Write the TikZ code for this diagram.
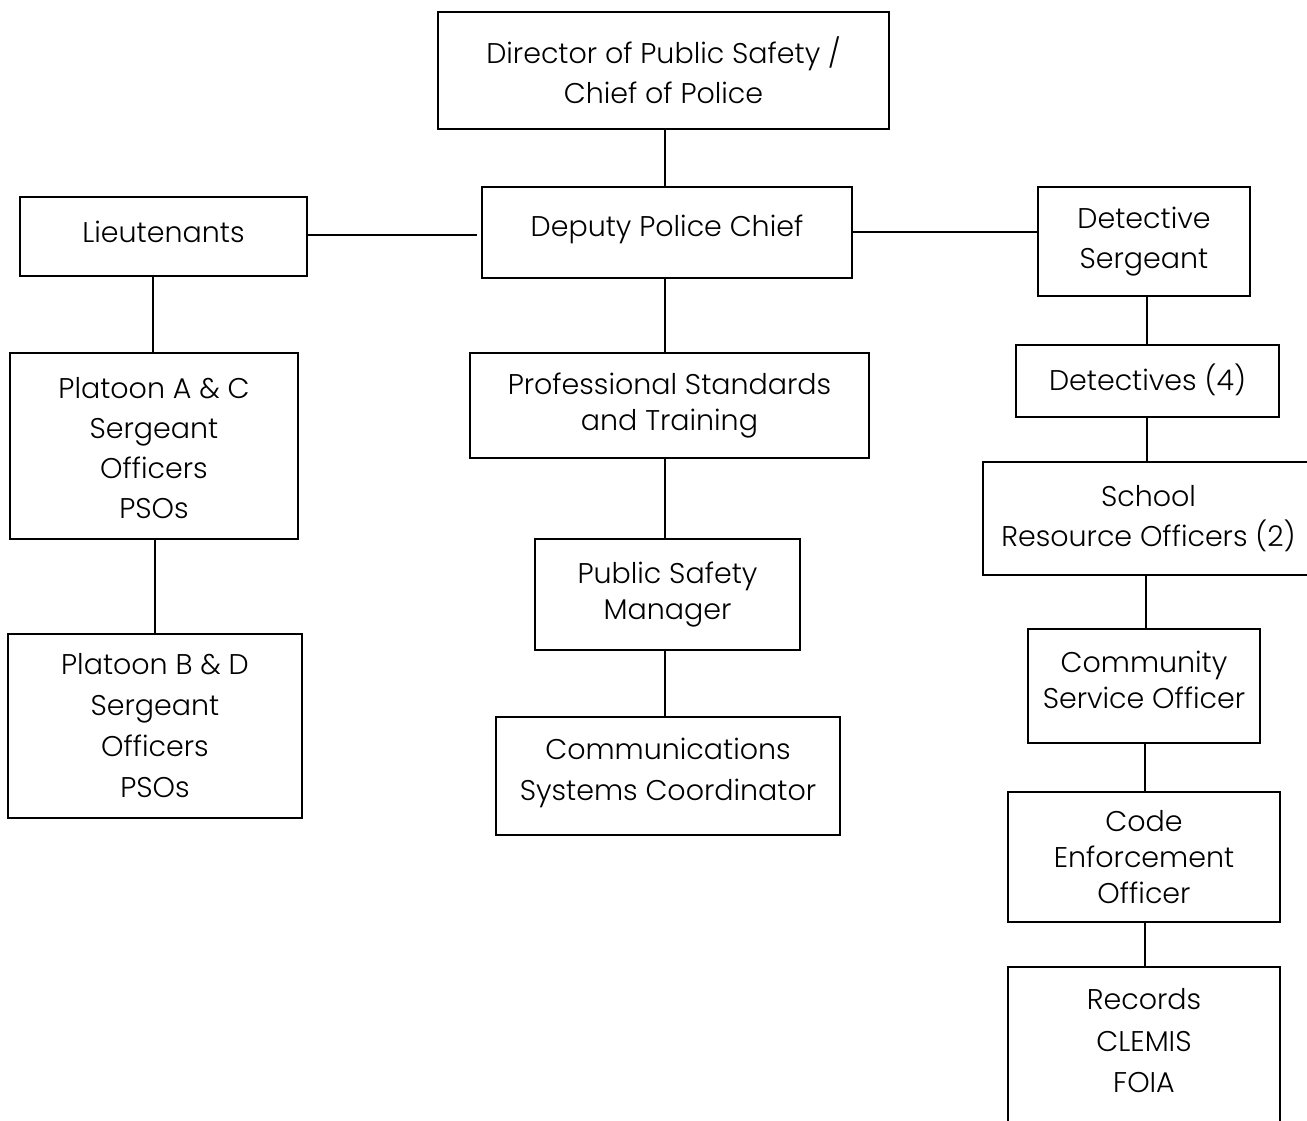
\documentclass[tikz,border=0pt]{standalone}
\usepackage{fontspec}
\setmainfont{Poppins}[UprightFont=* Light]
\begin{document}
\begin{tikzpicture}[x=1pt,y=-1pt,
  box/.style={draw=black,line width=2.6pt,align=center,inner sep=0pt,font=\fontsize{28.5}{40}\selectfont},
  tight/.style={font=\fontsize{28.5}{36}\selectfont},
  loose/.style={font=\fontsize{28.5}{41}\selectfont},
  txt/.style={align=center,inner sep=0pt},
  conn/.style={line width=2.4pt}]
\useasboundingbox (0,0) rectangle (1307,1120);
\begin{scope}
\clip (0,0) rectangle (1307,1120);
\node[box,minimum width=451,minimum height=117] (dir) at (663.5,70.5) {Director of Public Safety /\\Chief of Police};
\node[box,minimum width=370,minimum height=91] (dep) at (667,232.5) {\raisebox{14pt}{Deputy Police Chief}};
\node[box,minimum width=287,minimum height=79] (lt) at (163.5,236.5) {\raisebox{10pt}{Lieutenants}};
\node[box,minimum width=212,minimum height=109] (ds) at (1144,241.5) {Detective\\Sergeant};
\node[box,loose,minimum width=288,minimum height=186] (pac) at (154,446) {};
\node[txt,loose,box,draw=none] (pact) at (154,448) {Platoon A \& C\\Sergeant\\Officers\\PSOs};
\node[box,loose,minimum width=294,minimum height=184] (pbd) at (155,726) {Platoon B \& D\\Sergeant\\Officers\\PSOs};
\node[box,tight,minimum width=399,minimum height=105] (pst) at (669.5,405.5) {Professional Standards\\and Training};
\node[box,tight,minimum width=265,minimum height=111] (psm) at (667.5,594.5) {Public Safety\\Manager};
\node[box,minimum width=344,minimum height=118] (com) at (668,776) {};
\node[box,loose,draw=none] (comt) at (668,773) {Communications\\Systems Coordinator};
\node[box,minimum width=263,minimum height=72] (det) at (1147.5,381) {\raisebox{8pt}{Detectives (4)}};
\node[box,minimum width=331,minimum height=113] (sro) at (1148.5,518.5) {School\\Resource Officers (2)};
\node[box,minimum width=232,minimum height=114] (cso) at (1144,686) {};
\node[box,tight,draw=none] (csot) at (1144,680) {Community\\Service Officer};
\node[box,tight,minimum width=272,minimum height=130] (ceo) at (1144,857) {Code\\Enforcement\\Officer};
\node[box,minimum width=272,minimum height=173] (rec) at (1144,1053.5) {};
\node[box,draw=none,font=\fontsize{28.5}{41.5}\selectfont] (rect) at (1144,1041) {Records\\CLEMIS\\FOIA};
\end{scope}
\draw[conn] (dir.south -| 665,0) -- (dep.north -| 665,0);
\draw[conn,shorten >=4pt] (lt.east |- 0,235) -- (dep.west |- 0,235);
\draw[conn] (dep.east |- 0,232) -- (ds.west |- 0,232);
\draw[conn] (lt.south -| 153,0) -- (pac.north -| 153,0);
\draw[conn] (pac.south -| 155,0) -- (pbd.north -| 155,0);
\draw[conn] (dep.south -| 665,0) -- (pst.north -| 665,0);
\draw[conn] (pst.south -| 665,0) -- (psm.north -| 665,0);
\draw[conn] (psm.south -| 665,0) -- (com.north -| 665,0);
\draw[conn] (ds.south -| 1147,0) -- (det.north -| 1147,0);
\draw[conn] (det.south -| 1147,0) -- (sro.north -| 1147,0);
\draw[conn] (sro.south -| 1146,0) -- (cso.north -| 1146,0);
\draw[conn] (cso.south -| 1145,0) -- (ceo.north -| 1145,0);
\draw[conn] (ceo.south -| 1145,0) -- (rec.north -| 1145,0);
\end{tikzpicture}
\end{document}
